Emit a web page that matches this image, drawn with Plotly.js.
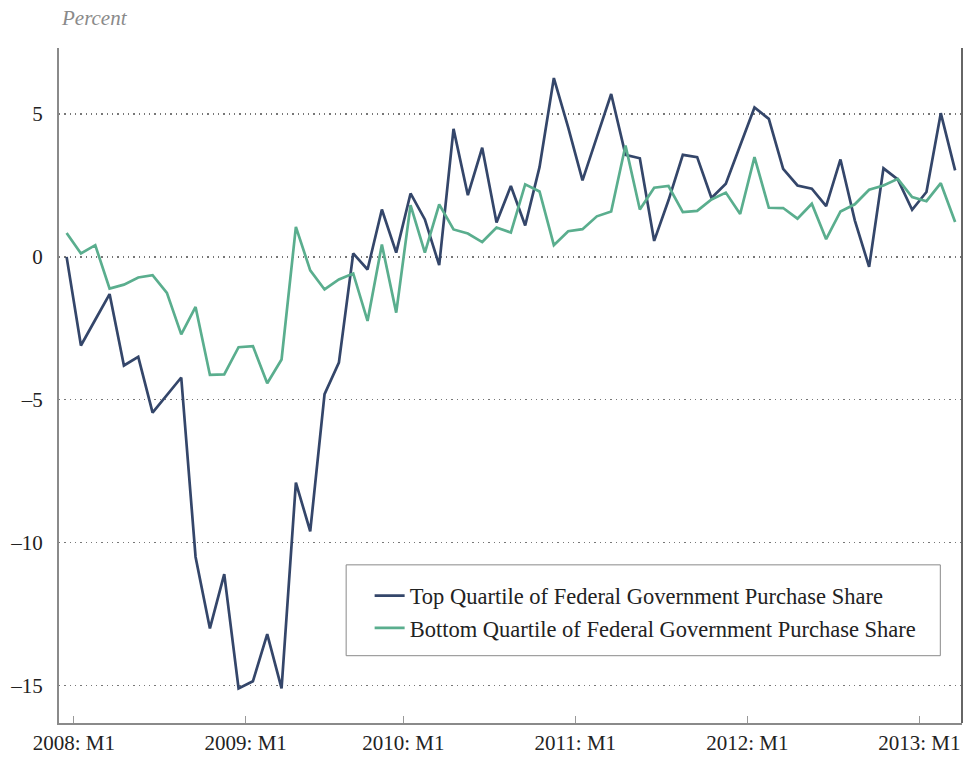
<!DOCTYPE html>
<html>
<head>
<meta charset="utf-8">
<script src="https://cdn.plot.ly/plotly-3.0.1.min.js"></script>
<style>
  html, body { margin: 0; padding: 0; background: #fff; }
  #chart { width: 980px; height: 757px; }
</style>
</head>
<body>
<div id="chart"></div>
<script>
// Month index 0 = first observation (2008: M1), 63 monthly observations
const monthIndex = Array.from({length: 63}, (_, i) => i);

const topQuartile = [0, -3.1, -2.2, -1.3, -3.8, -3.5, -5.45, -4.83, -4.22,
  -10.5, -13.0, -11.1, -15.1, -14.85, -13.2, -15.1, -7.9, -9.6, -4.8,
  -3.7, 0.12, -0.44, 1.66, 0.15, 2.22, 1.31, -0.29, 4.48, 2.16, 3.82, 1.2, 2.48,
  1.1, 3.14, 6.26, 4.53, 2.68, 4.19, 5.7, 3.57, 3.45, 0.56, 1.98, 3.57, 3.49, 2.06, 2.56,
  3.9, 5.23, 4.83, 3.08, 2.5, 2.39, 1.78, 3.41, 1.28, -0.35, 3.1, 2.71, 1.65, 2.27, 5.03, 3.03];

const bottomQuartile = [0.84, 0.12, 0.41, -1.11, -0.97, -0.72, -0.64, -1.26, -2.71,
  -1.75, -4.13, -4.11, -3.16, -3.12, -4.42, -3.59,
  1.05, -0.47, -1.14, -0.79, -0.58, -2.24, 0.43, -1.95, 1.81, 0.15, 1.84, 0.96, 0.82, 0.52, 1.03, 0.85,
  2.54, 2.29, 0.41, 0.9, 0.97, 1.42, 1.59, 3.9, 1.66, 2.42, 2.48, 1.57, 1.61, 2.01, 2.25, 1.5,
  3.49, 1.72, 1.71, 1.34, 1.86, 0.62, 1.59, 1.84, 2.35, 2.5, 2.73, 2.09, 1.95, 2.58, 1.22];

const xTickVals = [0.5, 12.5, 23.5, 35.5, 47.5, 59.5];
const xTickText = ["2008: M1", "2009: M1", "2010: M1", "2011: M1", "2012: M1", "2013: M1"];
const yTickVals = [5, 0, -5, -10, -15];
const yTickText = ["5", "0", "\u20135", "\u201310", "\u201315"];

const seriesNames = ["Top Quartile of Federal Government Purchase Share",
                     "Bottom Quartile of Federal Government Purchase Share"];

const FONT = "'Liberation Serif', 'DejaVu Serif', serif";

const traces = [
  {x: monthIndex, y: topQuartile, type: 'scatter', mode: 'lines', name: seriesNames[0],
   line: {color: '#34466a', width: 2.7}},
  {x: monthIndex, y: bottomQuartile, type: 'scatter', mode: 'lines', name: seriesNames[1],
   line: {color: '#5aae8e', width: 2.7}}
];

const layout = {
  width: 980, height: 757,
  margin: {l: 59, r: 18, t: 48, b: 34},
  paper_bgcolor: '#fff', plot_bgcolor: '#fff',
  font: {family: FONT, color: '#222', size: 21},
  showlegend: true,
  legend: {
    x: 0.344, y: 0.22, xanchor: 'left', yanchor: 'top',
    bgcolor: 'rgba(0,0,0,0)', borderwidth: 0,
    font: {family: FONT, size: 22.5, color: '#222'},
    tracegroupgap: 0
  },
  xaxis: {
    range: [-0.53, 62.48],
    tickmode: 'array', tickvals: xTickVals, ticktext: xTickText,
    ticks: 'inside', ticklen: 7, tickwidth: 1, tickcolor: '#999',
    showgrid: false, zeroline: false,
    showline: true, linecolor: '#8a8a8a', linewidth: 2,
    tickfont: {family: FONT, size: 21, color: '#222'},
    ticklabelstandoff: 0,
    fixedrange: true
  },
  yaxis: {
    range: [-16.31, 7.31],
    tickmode: 'array', tickvals: yTickVals, ticktext: yTickText,
    ticks: '', showgrid: true, gridcolor: '#777', gridwidth: 1.3, griddash: '1.3px,4px',
    zeroline: false,
    showline: true, linecolor: '#8a8a8a', linewidth: 2,
    tickfont: {family: FONT, size: 21, color: '#222'},
    ticklabelstandoff: 10,
    fixedrange: true
  },
  shapes: [
    {type: 'line', xref: 'paper', yref: 'paper', x0: 1, x1: 1, y0: 0, y1: 1,
     line: {color: '#333', width: 1.5}},
    {type: 'rect', xref: 'paper', yref: 'paper',
     x0: 0.318, x1: 0.976, y0: 0.0997, y1: 0.2343,
     line: {color: '#8a8a8a', width: 1}, fillcolor: 'rgba(0,0,0,0)'}
  ],
  annotations: [
    {text: 'Percent', xref: 'paper', yref: 'paper', x: 0.0, y: 1.044,
     xanchor: 'left', yanchor: 'middle', showarrow: false,
     font: {family: FONT, size: 21, color: '#8a8a8a', style: 'italic'}}
  ]
};

Plotly.newPlot('chart', traces, layout, {displayModeBar: false, staticPlot: true});
</script>
</body>
</html>
